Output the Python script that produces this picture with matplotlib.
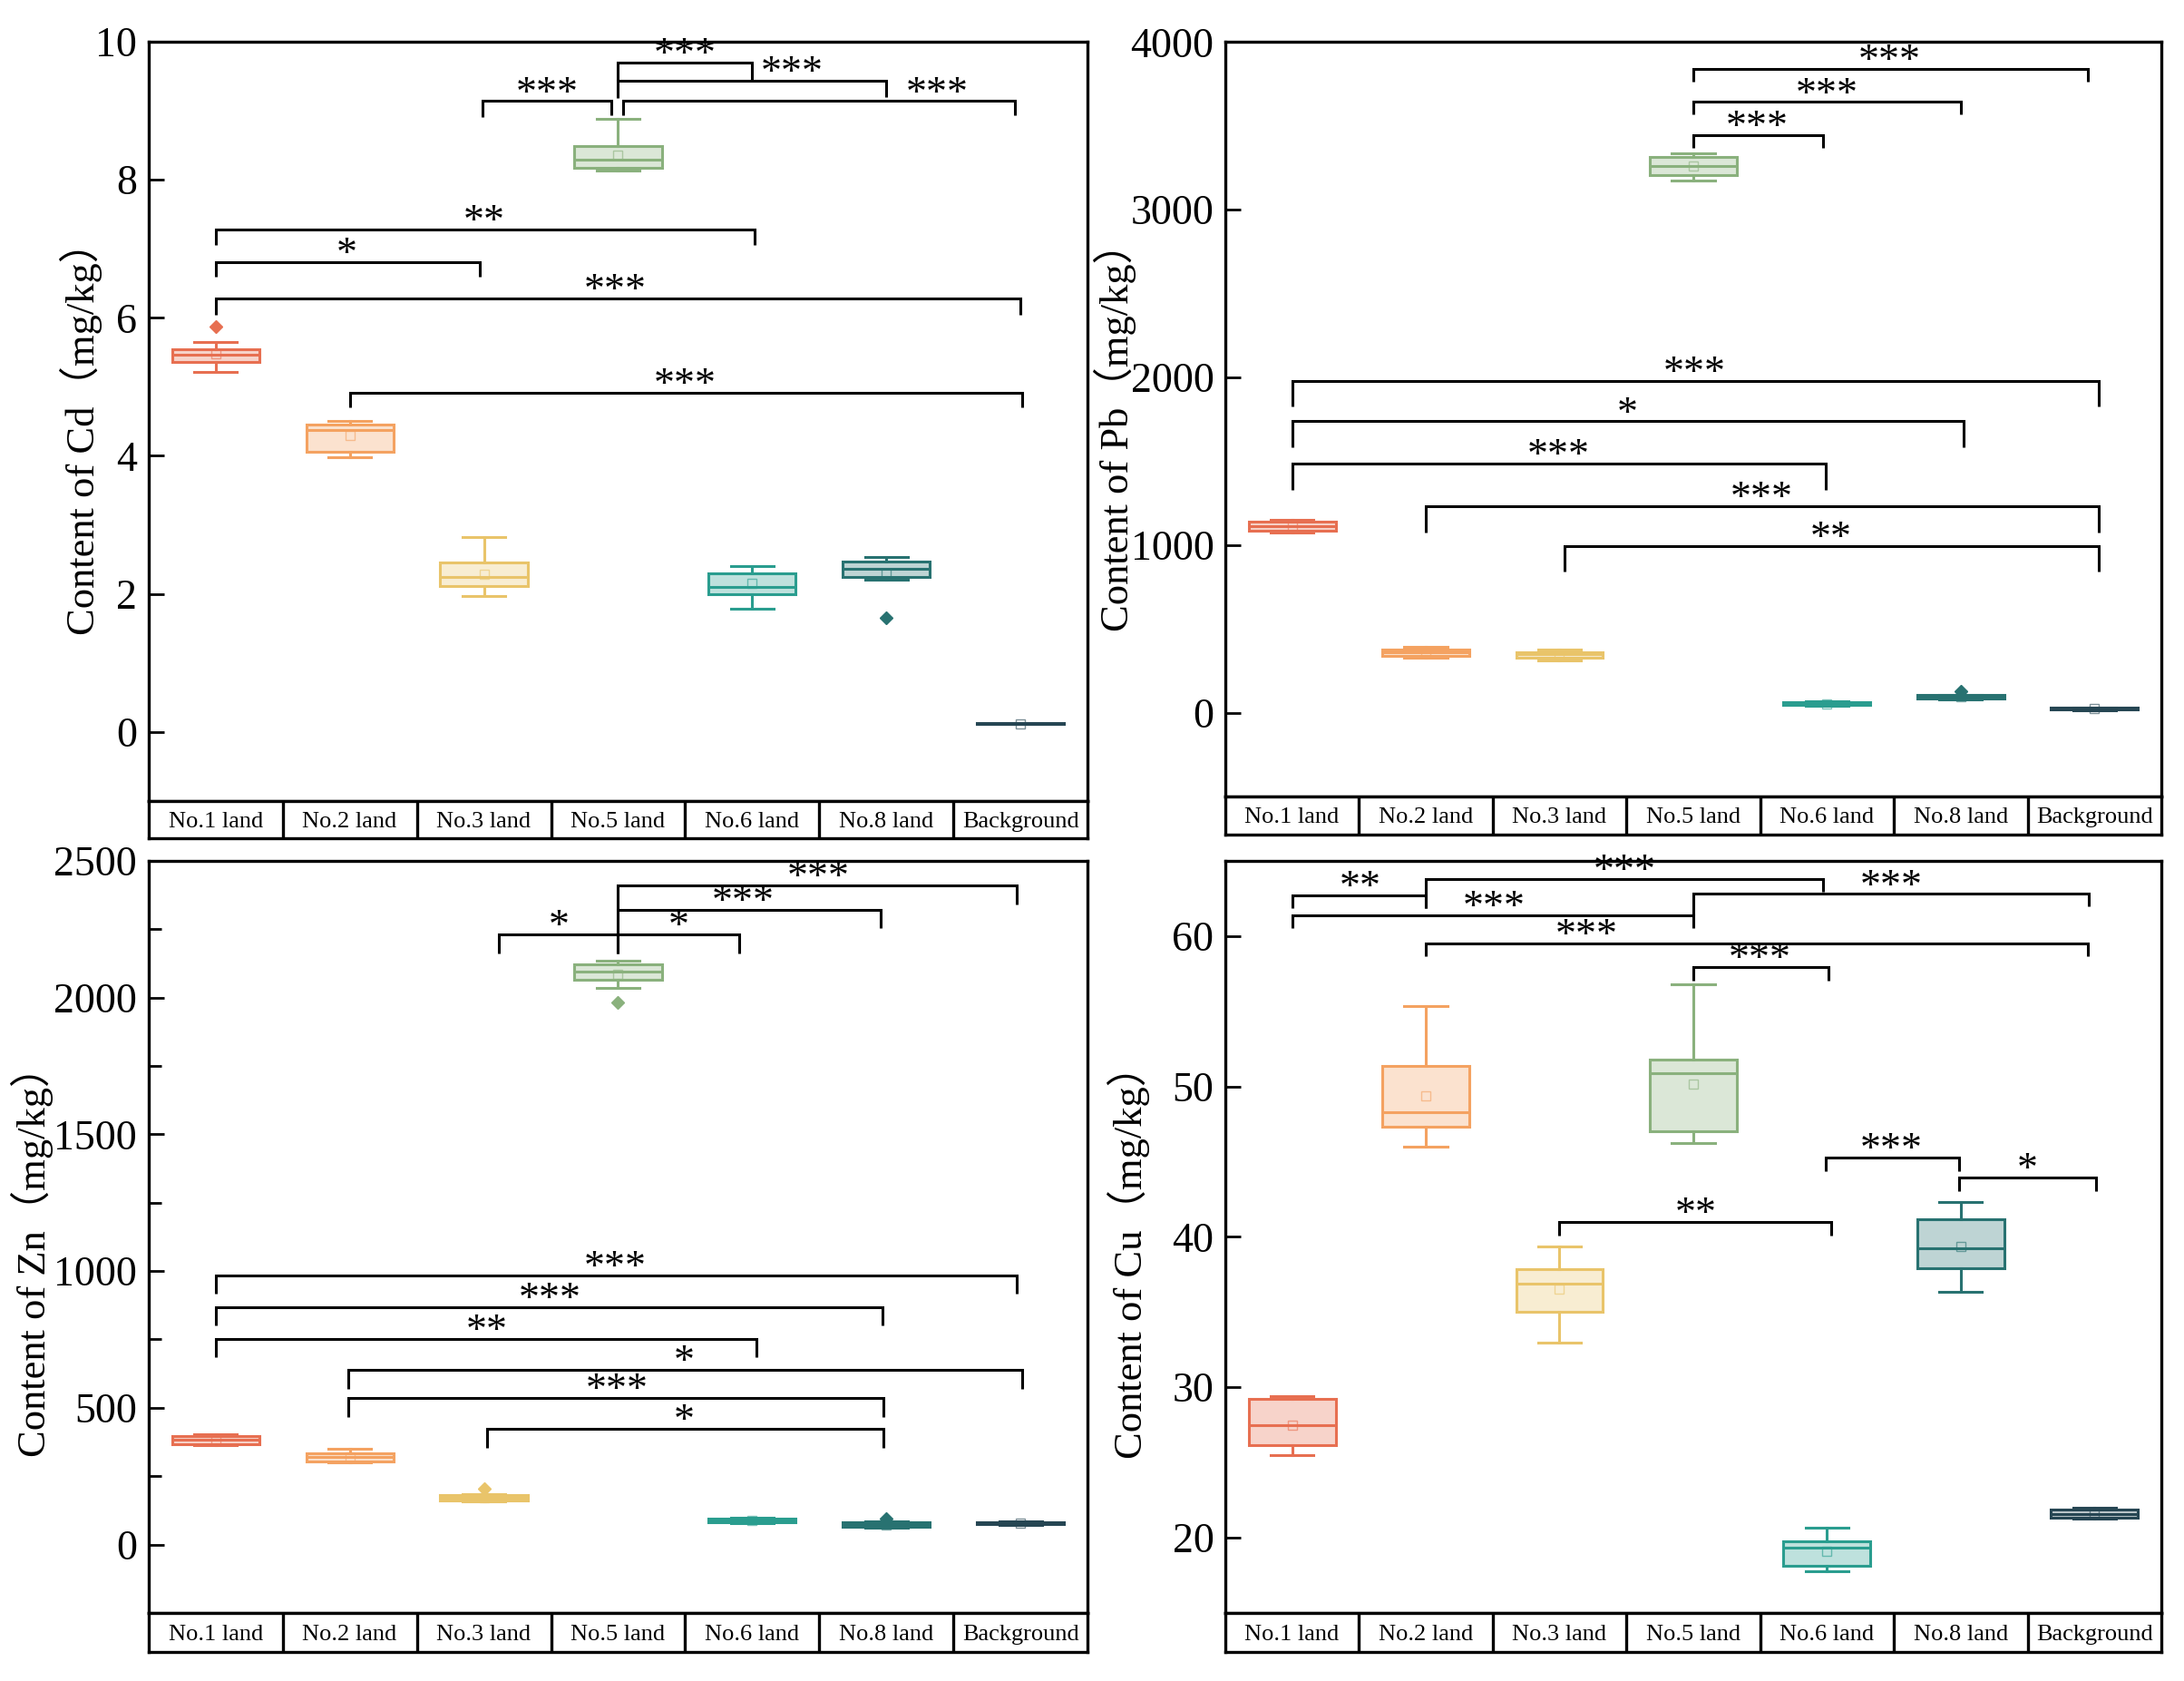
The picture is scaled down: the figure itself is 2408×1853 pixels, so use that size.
import matplotlib
matplotlib.use('Agg')
import matplotlib.pyplot as plt
from matplotlib.ticker import MultipleLocator
from matplotlib.colors import to_rgba

plt.rcParams['font.family'] = ['Liberation Serif', 'Noto Sans CJK SC']

categories = ['No.1 land', 'No.2 land', 'No.3 land', 'No.5 land', 'No.6 land', 'No.8 land', 'Background']
colors = ['#e76f51', '#f4a261', '#e9c46a', '#8ab17d', '#2a9d8f', '#287271', '#264653']

# ---- Cd ----
cd_whislo = [5.21, 3.98, 1.97, 8.13, 1.78, 2.21, 0.11]
cd_q1 = [5.36, 4.06, 2.11, 8.17, 1.99, 2.24, 0.115]
cd_med = [5.46, 4.37, 2.24, 8.29, 2.10, 2.36, 0.12]
cd_q3 = [5.55, 4.45, 2.46, 8.49, 2.30, 2.47, 0.125]
cd_whishi = [5.655, 4.51, 2.82, 8.88, 2.40, 2.54, 0.13]
cd_mean = [5.48, 4.29, 2.29, 8.36, 2.15, 2.30, 0.12]
cd_fliers = [[5.87], [], [], [], [], [1.66], []]

# ---- Pb ----
pb_whislo = [1072, 330, 310, 3174, 40, 80, 14]
pb_q1 = [1085, 340, 330, 3206, 45, 84, 17]
pb_med = [1110, 358, 349, 3258, 54, 95, 22]
pb_q3 = [1140, 378, 362, 3312, 62, 104, 28]
pb_whishi = [1149, 390, 374, 3334, 66, 108, 30]
pb_mean = [1110, 358, 336, 3258, 54, 95, 22]
pb_fliers = [[], [], [], [], [], [128], []]

# ---- Zn ----
zn_whislo = [364, 299, 158, 2035, 77, 63, 73]
zn_q1 = [368, 303, 161, 2065, 80, 66, 75]
zn_med = [383, 321, 171, 2095, 88, 73, 79]
zn_q3 = [398, 334, 181, 2120, 96, 81, 83]
zn_whishi = [403, 350, 186, 2136, 99, 84, 85]
zn_mean = [383, 321, 171, 2085, 88, 73, 79]
zn_fliers = [[], [], [203], [1983], [], [94], []]

# ---- Cu ----
cu_whislo = [25.48, 46.02, 32.95, 46.26, 17.78, 36.36, 21.26]
cu_q1 = [26.13, 47.35, 35.05, 47.05, 18.13, 37.92, 21.33]
cu_med = [27.46, 48.28, 36.91, 50.86, 19.35, 39.25, 21.60]
cu_q3 = [29.25, 51.36, 37.88, 51.79, 19.75, 41.15, 21.90]
cu_whishi = [29.43, 55.34, 39.35, 56.81, 20.65, 42.33, 21.97]
cu_mean = [27.46, 49.35, 36.50, 50.18, 19.10, 39.35, 21.60]
cu_fliers = [[], [], [], [], [], [], []]

# significance brackets: (x1, x2, y, left_end, right_end, text, text_x)
cd_sig = [
    (3, 4, 9.70, 9.44, 9.45, '***', 3.50),
    (3, 5, 9.44, 9.18, 9.20, '***', 4.30),
    (1.99, 2.95, 9.14, 8.91, 8.93, '***', 2.47),
    (3.04, 5.96, 9.14, 8.93, 8.93, '***', 5.375),
    (0, 4.02, 7.28, 7.06, 7.06, '**', 2.0),
    (0, 1.97, 6.81, 6.59, 6.59, '*', 0.98),
    (0, 6.0, 6.28, 6.05, 6.05, '***', 2.98),
    (1, 6.01, 4.91, 4.70, 4.70, '***', 3.5),
]
pb_sig = [
    (3, 5.95, 3840, 3766, 3766, '***', 4.47),
    (3, 5.0, 3642, 3568, 3568, '***', 4.0),
    (3, 3.97, 3446, 3370, 3370, '***', 3.48),
    (0, 6.03, 1978, 1824, 1824, '***', 3.01),
    (0, 5.02, 1738, 1584, 1584, '*', 2.51),
    (0, 3.99, 1488, 1328, 1328, '***', 1.99),
    (1, 6.03, 1232, 1072, 1072, '***', 3.51),
    (2.04, 6.03, 992, 842, 842, '**', 4.03),
]
zn_sig = [
    (3, 5.97, 2411, 2321, 2341, '***', 4.49),
    (3, 4.96, 2321, 2231, 2254, '***', 3.93),
    (2.11, 3, 2231, 2160, 2160, '*', 2.56),
    (3, 3.90, 2231, 2160, 2160, '*', 3.45),
    (0, 5.97, 985, 916, 916, '***', 2.98),
    (0, 4.97, 868, 803, 803, '***', 2.49),
    (0, 4.03, 753, 684, 684, '**', 2.02),
    (0.99, 6.01, 639, 570, 570, '*', 3.49),
    (0.99, 4.98, 537, 468, 468, '***', 2.99),
    (2.02, 4.98, 423, 354, 354, '*', 3.49),
]
cu_sig = [
    (0, 1.0, 62.69, 61.87, 61.87, '**', 0.51),
    (1.0, 3.97, 63.77, 61.87, 62.94, '***', 2.49),
    (3.0, 5.96, 62.80, 61.36, 61.97, '***', 4.48),
    (0, 3.0, 61.36, 60.54, 60.54, '***', 1.51),
    (1.0, 5.95, 59.50, 58.64, 58.64, '***', 2.20),
    (3.0, 4.01, 57.92, 57.06, 57.06, '***', 3.50),
    (3.99, 4.99, 45.29, 44.36, 44.36, '***', 4.48),
    (4.99, 6.01, 43.93, 43.07, 43.07, '*', 5.50),
    (2.0, 4.03, 40.99, 40.09, 40.09, '**', 3.02),
]

fig = plt.figure(figsize=(24.08, 18.53), dpi=100)

panels = [
    dict(rect=[0.068, 0.5235, 0.430, 0.4517], lrect=[0.068, 0.5013, 0.430, 0.0222],
         stats=(cd_whislo, cd_q1, cd_med, cd_q3, cd_whishi, cd_mean, cd_fliers), sig=cd_sig,
         ylim=(-1, 10), major=2, minor=None, label='Content of Cd（mg/kg）', lab=(-0.072, 0.49)),
    dict(rect=[0.561, 0.5262, 0.4286, 0.4488], lrect=[0.561, 0.5035, 0.4286, 0.0227],
         stats=(pb_whislo, pb_q1, pb_med, pb_q3, pb_whishi, pb_mean, pb_fliers), sig=pb_sig,
         ylim=(-500, 4000), major=1000, minor=None, label='Content of Pb（mg/kg）', lab=(-0.118, 0.49)),
    dict(rect=[0.068, 0.0405, 0.430, 0.4474], lrect=[0.068, 0.0173, 0.430, 0.0232],
         stats=(zn_whislo, zn_q1, zn_med, zn_q3, zn_whishi, zn_mean, zn_fliers), sig=zn_sig,
         ylim=(-250, 2500), major=500, minor=250, label='Content of Zn（mg/kg）', lab=(-0.124, 0.48)),
    dict(rect=[0.561, 0.0405, 0.4286, 0.4474], lrect=[0.561, 0.0173, 0.4286, 0.0232],
         stats=(cu_whislo, cu_q1, cu_med, cu_q3, cu_whishi, cu_mean, cu_fliers), sig=cu_sig,
         ylim=(15, 65), major=10, minor=None, label='Content of Cu（mg/kg）', lab=(-0.103, 0.48)),
]

for p in panels:
    ax = fig.add_axes(p['rect'])
    wlo, q1, med, q3, whi, mn, fl = p['stats']
    for i, c in enumerate(colors):
        st = [dict(whislo=wlo[i], q1=q1[i], med=med[i], q3=q3[i], whishi=whi[i],
                   mean=mn[i], fliers=fl[i], label=categories[i])]
        ax.bxp(st, positions=[i], widths=0.65, capwidths=0.32, patch_artist=True,
               showmeans=True, meanline=False, manage_ticks=False,
               boxprops=dict(facecolor=to_rgba(c, 0.3), edgecolor=c, linewidth=2.2),
               medianprops=dict(color=c, linewidth=2.2),
               whiskerprops=dict(color=c, linewidth=2.2),
               capprops=dict(color=c, linewidth=2.2),
               meanprops=dict(marker='s', markerfacecolor='none', markeredgecolor=to_rgba(c, 0.6),
                              markersize=7, markeredgewidth=1),
               flierprops=dict(marker='D', markerfacecolor=c, markeredgecolor=c, markersize=7))
    for (x1, x2, y, e1, e2, t, tx) in p['sig']:
        ax.plot([x1, x1, x2, x2], [e1, y, y, e2], color='black', lw=2.2, clip_on=False,
                solid_joinstyle='miter', solid_capstyle='butt')
        ax.annotate(t, (tx, y), xytext=(0, -3), textcoords='offset points',
                    ha='center', va='baseline', fontsize=33, annotation_clip=False)
    ax.set_xlim(-0.5, 6.5)
    ax.set_ylim(*p['ylim'])
    ax.set_xticks([])
    ax.yaxis.set_major_locator(MultipleLocator(p['major']))
    if p['minor']:
        ax.yaxis.set_minor_locator(MultipleLocator(p['minor']))
        ax.tick_params(axis='y', which='minor', direction='in', length=10, width=2)
    ax.tick_params(axis='y', which='major', direction='in', length=12, width=2,
                   labelsize=33, pad=9)
    for s in ax.spines.values():
        s.set_linewidth(2.4)
    ax.text(p['lab'][0], p['lab'][1], p['label'], transform=ax.transAxes, rotation=90,
            ha='center', va='center', fontsize=32)

    lax = fig.add_axes(p['lrect'])
    lax.set_xlim(-0.5, 6.5)
    lax.set_ylim(0, 1)
    lax.set_xticks([])
    lax.set_yticks([])
    for s in lax.spines.values():
        s.set_linewidth(2.4)
    for k in range(len(categories) - 1):
        lax.axvline(k + 0.5, color='black', lw=2.4)
    for i, name in enumerate(categories):
        lax.text(i, 0.45, name, ha='center', va='center', fontsize=19)

fig.savefig('out.png', dpi=100)
